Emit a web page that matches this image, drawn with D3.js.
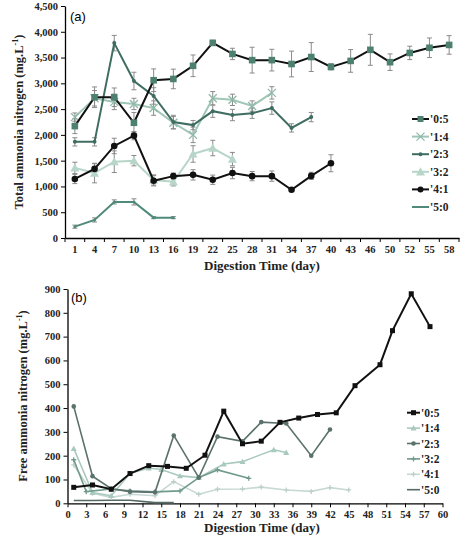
<!DOCTYPE html>
<html><head><meta charset="utf-8">
<script src="https://cdnjs.cloudflare.com/ajax/libs/d3/7.8.5/d3.min.js"></script>
<style>body{margin:0;background:#fff}svg{display:block}</style>
</head><body><svg id="c" width="474" height="538"></svg>
<script>
// ---------- Panel (a): Total ammonia nitrogen ----------
const daysA = ["1","4","7","10","13","16","19","22","25","28","31","34","37","40","43","46","50","52","55","58"];
const tanLabels = ["'0:5","'1:4","'2:3","'3:2","'4:1","'5:0"];
const tan05 = [2170,2730,2730,2235,3060,3085,3340,3785,3570,3450,3450,3375,3510,3320,3435,3650,3410,3590,3690,3745];
const tan05err = [145,200,180,200,220,190,210,50,110,250,210,250,280,60,220,300,160,130,190,180];
const tan14 = [2345,2710,2640,2600,2520,2235,2000,2710,2680,2560,2815];
const tan14err = [80,150,150,110,140,120,150,130,110,100,120];
const tan23 = [1865,1865,3780,3045,2755,2250,2190,2460,2385,2420,2520,2135,2345];
const tan23err = [80,80,150,170,160,130,90,120,110,100,120,80,90];
const tan32 = [1360,1260,1480,1500,1125,1090,1630,1745,1530];
const tan32err = [110,190,210,100,100,80,160,150,130];
const tan41 = [1145,1340,1785,1985,1110,1200,1225,1130,1260,1200,1200,935,1205,1450];
const tan41err = [90,100,150,80,100,60,100,90,110,90,100,30,70,165];
const tan50 = [220,350,700,700,395,395];
const tan50err = [30,40,40,60,20,20];

// ---------- Panel (b): Free ammonia nitrogen ----------
const fanLabels = ["'0:5","'1:4","'2:3","'3:2","'4:1","'5:0"];
const fan05d = [1,4,7,10,13,16,19,22,25,28,31,34,37,40,43,46,50,52,55,58];
const fan05 = [67,77,59,125,158,155,147,202,387,250,261,340,358,373,380,494,582,725,880,742];
const fan14d = [1,4,7,10,13,15,18,21,25,28,33,35];
const fan14 = [230,45,32,125,148,142,115,108,165,175,225,213];
const fan23d = [1,4,7,10,14,17,21,24,28,31,35,39,42];
const fan23 = [407,114,61,49,46,285,108,280,260,341,335,200,310];
const fan32d = [1,3,7,10,14,18,21,24,29];
const fan32 = [183,49,60,52,48,52,108,140,105];
const fan41d = [1,4,7,10,14,17,21,24,28,31,35,39,42,45];
const fan41 = [161,42,25,38,32,91,38,59,60,68,56,50,66,56];
const fan50d = [1,4,7,10,14,17];
const fan50 = [12,12,13,13,3,3];
const fanTicksX = d3.range(0,61,3);
const fanTicksY = d3.range(0,901,100);

const svg = d3.select("#c");
const serif = "'Liberation Serif','Times New Roman',serif";
const sans = "'Liberation Sans',Arial,sans-serif";

// ===== Panel A =====
const gA = svg.append("g");
const xA = d3.scaleBand().domain(daysA).range([65,459]);
const yA = d3.scaleLinear().domain([0,4500]).range([238,6]);
const cx = d => xA(d) + xA.bandwidth()/2;

// y axis
const yAxA = d3.axisLeft(yA).tickValues(d3.range(0,4501,500)).tickFormat(d3.format(",")).tickSize(4).tickSizeOuter(0);
gA.append("g").attr("transform","translate(65,0)").call(yAxA);
// x axis
const xAxA = d3.axisBottom(xA).tickSize(0).tickSizeOuter(0);
const gxA = gA.append("g").attr("transform","translate(0,238)").call(xAxA);
gxA.selectAll("text").attr("dy","1.1em");
// boundary ticks
gA.append("g").selectAll("line").data(daysA.concat(["end"])).join("line")
  .attr("x1",(d,i)=>65+i*xA.step()).attr("x2",(d,i)=>65+i*xA.step())
  .attr("y1",238).attr("y2",242).attr("stroke","#000");

[gA].forEach(g=>{
  g.selectAll(".domain").attr("stroke","#000").attr("stroke-width",1.3);
  g.selectAll(".tick line").attr("stroke","#000");
  g.selectAll(".tick text").attr("font-family",serif).attr("font-weight","bold").attr("font-size","10.5px").attr("fill","#222");
});

gA.append("text").attr("x",70).attr("y",21).attr("font-family",sans).attr("font-size","13px").text("(a)");
gA.append("text").attr("transform","translate(23,122) rotate(-90)").attr("text-anchor","middle")
  .attr("font-family",serif).attr("font-weight","bold").attr("font-size","12.5px").attr("fill","#222")
  .html("Total ammonia nitrogen (mg.L<tspan dy='-5' font-size='8px'>-1</tspan><tspan dy='5'>)</tspan>");
gA.append("text").attr("x",262).attr("y",270).attr("text-anchor","middle")
  .attr("font-family",serif).attr("font-weight","bold").attr("font-size","13px").attr("fill","#222").text("Digestion Time (day)");

const seriesA = [
  {name:tanLabels[5], v:tan50, e:tan50err, line:"#4f8a7b", w:2, mk:"dot", mc:"#4f8a7b", ms:1.5},
  {name:tanLabels[3], v:tan32, e:tan32err, line:"#b7d5c8", w:2, mk:"tri", mc:"#b7d5c8", ms:4.5},
  {name:tanLabels[1], v:tan14, e:tan14err, line:"#9fc6b6", w:2, mk:"x", mc:"#8fb9a8", ms:4},
  {name:tanLabels[2], v:tan23, e:tan23err, line:"#3f6d62", w:2, mk:"dot", mc:"#3f6d62", ms:2},
  {name:tanLabels[4], v:tan41, e:tan41err, line:"#111", w:2, mk:"circle", mc:"#111", ms:3.3},
  {name:tanLabels[0], v:tan05, e:tan05err, line:"#111", w:2, mk:"square", mc:"#4d8070", ms:3.3},
];

function drawMarker(g, mk, x, y, c, s){
  if(mk==="square") g.append("rect").attr("x",x-s).attr("y",y-s).attr("width",2*s).attr("height",2*s).attr("fill",c);
  else if(mk==="circle"||mk==="dot") g.append("circle").attr("cx",x).attr("cy",y).attr("r",s).attr("fill",c);
  else if(mk==="tri") g.append("path").attr("d",`M${x},${y-s}L${x+s},${y+s*0.8}L${x-s},${y+s*0.8}Z`).attr("fill",c);
  else if(mk==="x") g.append("path").attr("d",`M${x-s},${y-s}L${x+s},${y+s}M${x-s},${y+s}L${x+s},${y-s}`).attr("stroke",c).attr("stroke-width",1.3);
  else if(mk==="plus") g.append("path").attr("d",`M${x-s},${y}L${x+s},${y}M${x},${y-s}L${x},${y+s}`).attr("stroke",c).attr("stroke-width",1.3);
}

// error bars
seriesA.forEach(s=>{
  const g = gA.append("g");
  s.v.forEach((v,i)=>{
    const x = cx(daysA[i]);
    const y1 = yA(v+s.e[i]), y2 = yA(v-s.e[i]);
    g.append("line").attr("x1",x).attr("x2",x).attr("y1",y1).attr("y2",y2).attr("stroke","#8a8a8a").attr("stroke-width",1);
    g.append("line").attr("x1",x-2.5).attr("x2",x+2.5).attr("y1",y1).attr("y2",y1).attr("stroke","#8a8a8a").attr("stroke-width",1);
    g.append("line").attr("x1",x-2.5).attr("x2",x+2.5).attr("y1",y2).attr("y2",y2).attr("stroke","#8a8a8a").attr("stroke-width",1);
  });
});
seriesA.forEach(s=>{
  const g = gA.append("g");
  const ln = d3.line().x((v,i)=>cx(daysA[i])).y(v=>yA(v));
  g.append("path").attr("d",ln(s.v)).attr("fill","none").attr("stroke",s.line).attr("stroke-width",s.w);
  s.v.forEach((v,i)=>drawMarker(g,s.mk,cx(daysA[i]),yA(v),s.mc,s.ms));
});
// legend A
const legA = [
  {name:tanLabels[0], line:"#111", mk:"square", mc:"#4d8070", ms:3},
  {name:tanLabels[1], line:"#9fc6b6", mk:"x", mc:"#8fb9a8", ms:4},
  {name:tanLabels[2], line:"#3f6d62", mk:"dot", mc:"#3f6d62", ms:2},
  {name:tanLabels[3], line:"#b7d5c8", mk:"tri", mc:"#b7d5c8", ms:4.5},
  {name:tanLabels[4], line:"#111", mk:"circle", mc:"#111", ms:3},
  {name:tanLabels[5], line:"#4f8a7b", mk:null, mc:null, ms:0},
];
legA.forEach((l,i)=>{
  const y = 119 + i*17.6;
  const g = gA.append("g");
  g.append("line").attr("x1",412).attr("x2",429).attr("y1",y).attr("y2",y).attr("stroke",l.line).attr("stroke-width",2);
  if(l.mk) drawMarker(g,l.mk,420.5,y,l.mc,l.ms);
  g.append("text").attr("x",430).attr("y",y+4).attr("font-family",serif).attr("font-weight","bold").attr("font-size","11.5px").attr("fill","#222").text(l.name);
});

// ===== Panel B =====
const gB = svg.append("g");
const xB = d3.scaleLinear().domain([0,60]).range([67.5,442.5]);
const yB = d3.scaleLinear().domain([0,900]).range([503.3,289]);
gB.append("g").attr("transform","translate(67.5,0)").call(d3.axisLeft(yB).tickValues(fanTicksY).tickSize(4).tickSizeOuter(0));
gB.append("g").attr("transform","translate(0,503.3)").call(d3.axisBottom(xB).tickValues(fanTicksX).tickSize(4).tickSizeOuter(0));
gB.selectAll(".domain").attr("stroke","#000").attr("stroke-width",1.3);
gB.selectAll(".tick line").attr("stroke","#000");
gB.selectAll(".tick text").attr("font-family",serif).attr("font-weight","bold").attr("font-size","10.5px").attr("fill","#222");

gB.append("text").attr("x",71).attr("y",302).attr("font-family",sans).attr("font-size","13px").text("(b)");
gB.append("text").attr("transform","translate(27,396) rotate(-90)").attr("text-anchor","middle")
  .attr("font-family",serif).attr("font-weight","bold").attr("font-size","12.5px").attr("fill","#222")
  .html("Free ammonia nitrogen (mg.L<tspan dy='-5' font-size='8px'>-1</tspan><tspan dy='5'>)</tspan>");
gB.append("text").attr("x",262).attr("y",532).attr("text-anchor","middle")
  .attr("font-family",serif).attr("font-weight","bold").attr("font-size","13px").attr("fill","#222").text("Digestion Time (day)");

const seriesB = [
  {name:fanLabels[5], d:fan50d, v:fan50, line:"#566a66", w:1.6, mk:null},
  {name:fanLabels[4], d:fan41d, v:fan41, line:"#c7d9d2", w:1.6, mk:"plus", mc:"#bcd0c9", ms:2.5},
  {name:fanLabels[1], d:fan14d, v:fan14, line:"#a9c9bd", w:1.6, mk:"tri", mc:"#a9c9bd", ms:3},
  {name:fanLabels[3], d:fan32d, v:fan32, line:"#6f9a8c", w:1.6, mk:"plus", mc:"#6f9a8c", ms:2.5},
  {name:fanLabels[2], d:fan23d, v:fan23, line:"#5a716c", w:1.6, mk:"circle", mc:"#5a716c", ms:2.3},
  {name:fanLabels[0], d:fan05d, v:fan05, line:"#111", w:2, mk:"square", mc:"#111", ms:2.5},
];
seriesB.forEach(s=>{
  const g = gB.append("g");
  const ln = d3.line().x((v,i)=>xB(s.d[i])).y(v=>yB(v));
  g.append("path").attr("d",ln(s.v)).attr("fill","none").attr("stroke",s.line).attr("stroke-width",s.w);
  if(s.mk) s.v.forEach((v,i)=>drawMarker(g,s.mk,xB(s.d[i]),yB(v),s.mc,s.ms));
});
const legB = [
  {name:fanLabels[0], line:"#111", w:2, mk:"square", mc:"#111", ms:2.5},
  {name:fanLabels[1], line:"#a9c9bd", w:1.6, mk:"tri", mc:"#a9c9bd", ms:3},
  {name:fanLabels[2], line:"#5a716c", w:1.6, mk:"circle", mc:"#5a716c", ms:2.3},
  {name:fanLabels[3], line:"#6f9a8c", w:1.6, mk:"plus", mc:"#6f9a8c", ms:2.5},
  {name:fanLabels[4], line:"#c7d9d2", w:1.6, mk:"plus", mc:"#bcd0c9", ms:2.5},
  {name:fanLabels[5], line:"#566a66", w:1.6, mk:null},
];
legB.forEach((l,i)=>{
  const y = 412.7 + i*15.4;
  const g = gB.append("g");
  g.append("line").attr("x1",407).attr("x2",420).attr("y1",y).attr("y2",y).attr("stroke",l.line).attr("stroke-width",l.w);
  if(l.mk) drawMarker(g,l.mk,413.5,y,l.mc,l.ms);
  g.append("text").attr("x",421).attr("y",y+4).attr("font-family",serif).attr("font-weight","bold").attr("font-size","11.5px").attr("fill","#222").text(l.name);
});
</script></body></html>
